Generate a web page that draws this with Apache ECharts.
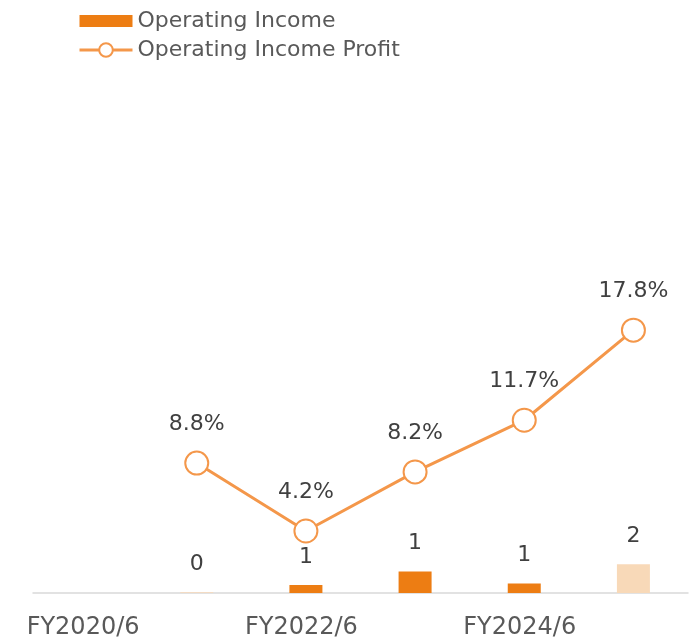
<!DOCTYPE html>
<html>
<head>
<meta charset="utf-8">
<script src="https://cdn.jsdelivr.net/npm/echarts@6/dist/echarts.min.js"></script>
<style>
  html, body { margin: 0; padding: 0; background: #fff; }
  #main { width: 697px; height: 640px; }
</style>
</head>
<body>
<div id="main"></div>
<script>
// categories on the x axis
const categories = ['FY2020/6', 'FY2021/6', 'FY2022/6', 'FY2023/6', 'FY2024/6', 'FY2025/6']
// operating income (bars)
const incomeValues = [null, 0.05, 0.55, 1.45, 0.65, 1.95]
// operating income profit, %
const profitValues = [null, 8.8, 4.2, 8.2, 11.7, 17.8]
// years drawn with the pale bar colour
const paleYears = ['FY2021/6', 'FY2025/6']

const barColor = '#ED7D13'
const paleColor = '#F8D9B8'
const lineColor = '#F4974A'
const textColor = '#404040'
const font = 'DejaVu Sans'

let chart = echarts.init(document.getElementById('main'))

chart.setOption({
  animation: false,
  textStyle: { fontFamily: font },
  legend: {
    orient: 'vertical',
    left: 73,
    top: 5,
    itemWidth: 53,
    itemHeight: 17,
    itemGap: 7,
    symbolKeepAspect: true,
    lineStyle: { width: 3 },
    textStyle: { fontSize: 22, color: '#595959', fontFamily: font },
    data: [
      // flat bar swatch, 53 x 12
      { name: 'Operating Income', icon: 'path://M0,0h53v12h-53z', itemStyle: { color: barColor } },
      { name: 'Operating Income Profit' }
    ]
  },
  grid: { left: 33, right: 9, top: 150, bottom: 47 },
  xAxis: {
    type: 'category',
    data: categories,
    axisTick: { show: false },
    axisLine: { lineStyle: { color: '#D9D9D9', width: 1.5 } },
    axisLabel: { interval: 1, color: '#595959', fontSize: 24, margin: 23, fontFamily: font, padding: [0, 9, 0, 0] }
  },
  yAxis: [
    { type: 'value', min: 0, max: 30, show: false },
    { type: 'value', min: 0, max: 30, show: false }
  ],
  series: [
    {
      name: 'Operating Income',
      type: 'bar',
      yAxisIndex: 0,
      barWidth: 33,
      itemStyle: { color: barColor },
      data: incomeValues.map((v, i) => ({
        value: v,
        itemStyle: { color: paleYears.includes(categories[i]) ? paleColor : barColor }
      })),
      label: {
        show: true,
        position: 'top',
        distance: 17,
        fontSize: 22,
        color: textColor,
        fontFamily: font,
        formatter: p => p.value == null ? '' : Math.round(p.value)
      }
    },
    {
      name: 'Operating Income Profit',
      type: 'line',
      yAxisIndex: 1,
      data: profitValues,
      symbol: 'circle',
      symbolSize: 23,
      lineStyle: { color: lineColor, width: 3 },
      itemStyle: { color: '#fff', borderColor: lineColor, borderWidth: 2 },
      label: {
        show: true,
        position: 'top',
        distance: 15,
        fontSize: 22,
        color: textColor,
        fontFamily: font,
        formatter: p => p.value.toFixed(1) + '%'
      }
    }
  ]
})
</script>
</body>
</html>
